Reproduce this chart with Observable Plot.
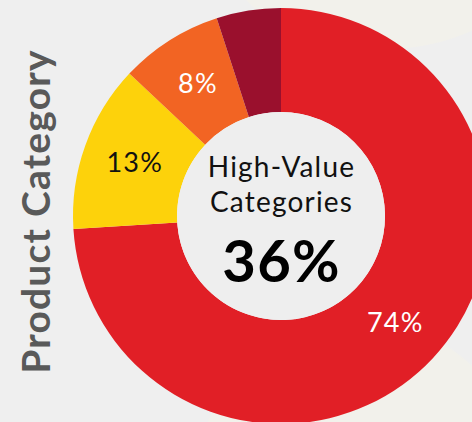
<!DOCTYPE html>
<html>
<head>
<meta charset="utf-8">
<script src="https://cdn.jsdelivr.net/npm/d3@7"></script>
<script src="https://cdn.jsdelivr.net/npm/@observablehq/plot@0.6"></script>
<style>
  html, body { margin: 0; padding: 0; background: #efefef; overflow: hidden; }
  #chart {
    width: 472px; height: 422px; overflow: hidden;
    background:
      radial-gradient(ellipse 150px 90px at 380px -40px, #f2f1eb 99%, rgba(242,241,235,0) 100%),
      radial-gradient(ellipse 170px 180px at 360px 500px, #f2f1eb 99%, rgba(242,241,235,0) 100%),
      #efefef;
  }
  #chart svg text { letter-spacing: 1.2px; }
</style>
</head>
<body>
<div id="chart"></div>
<script>
const categories = ["Largest category", "Second category", "Third category", "Fourth category"];
const values = [74, 13, 8, 5];
const sliceLabels = ["74%", "13%", "8%", ""];
const colors = ["#e11f26", "#fdd20b", "#f26423", "#9a102d"];
const labelColors = ["#ffffff", "#111111", "#ffffff", "#ffffff"];
const centerLines = ["High-Value", "Categories"];
const centerValue = "36%";
const axisTitle = "Product Category";

const innerRatio = 0.5;
const data = categories.map((c, i) => ({category: c, value: values[i], label: sliceLabels[i], color: colors[i], labelColor: labelColors[i]}));
const pie = d3.pie().sort(null).value(d => d.value)(data);
const labelPts = pie.map(p => {
  const a = (p.startAngle + p.endAngle) / 2;
  const r = (1 + innerRatio) / 2;
  return {x: r * Math.sin(a), y: r * Math.cos(a), label: p.data.label, color: p.data.labelColor};
});

function donut(index, scales, values, dimensions, context) {
  const cx = scales.x(0), cy = scales.y(0);
  const R = scales.x(1) - scales.x(0);
  const arc = d3.arc().innerRadius(R * innerRatio).outerRadius(R);
  const g = d3.create("svg:g").attr("transform", `translate(${cx},${cy})`);
  g.selectAll("path").data(pie).join("path")
    .attr("d", arc)
    .attr("fill", d => d.data.color)
    .attr("stroke", "none");
  g.append("circle").attr("r", R * innerRatio).attr("fill", "#eeeeee");
  return g.node();
}

const chart = Plot.plot({
  width: 472,
  height: 422,
  margin: 0,
  x: {domain: [-1, 1], range: [73, 489], axis: null},
  y: {domain: [-1, 1], range: [424, 8], axis: null},
  style: {background: "transparent", fontFamily: "Lato, 'Open Sans', sans-serif", overflow: "hidden"},
  marks: [
    donut,
    Plot.text(labelPts, {x: "x", y: "y", text: "label", fill: "color", fontSize: 27}),
    Plot.text([centerLines[0]], {x: [0], y: [0], dy: -48, text: d => d, fontSize: 28, fill: "#111"}),
    Plot.text([centerLines[1]], {x: [0], y: [0], dy: -13, text: d => d, fontSize: 28, fill: "#111"}),
    Plot.text([centerValue], {x: [0], y: [0], dy: 47, text: d => d, fontSize: 58, fontWeight: "bold", fill: "#000"}),
    Plot.text([axisTitle], {frameAnchor: "left", dx: 37, rotate: -90, textAnchor: "middle", text: d => d, fontSize: 39, fontWeight: "bold", fill: "#595959"})
  ]
});
document.getElementById("chart").appendChild(chart);
</script>
</body>
</html>
